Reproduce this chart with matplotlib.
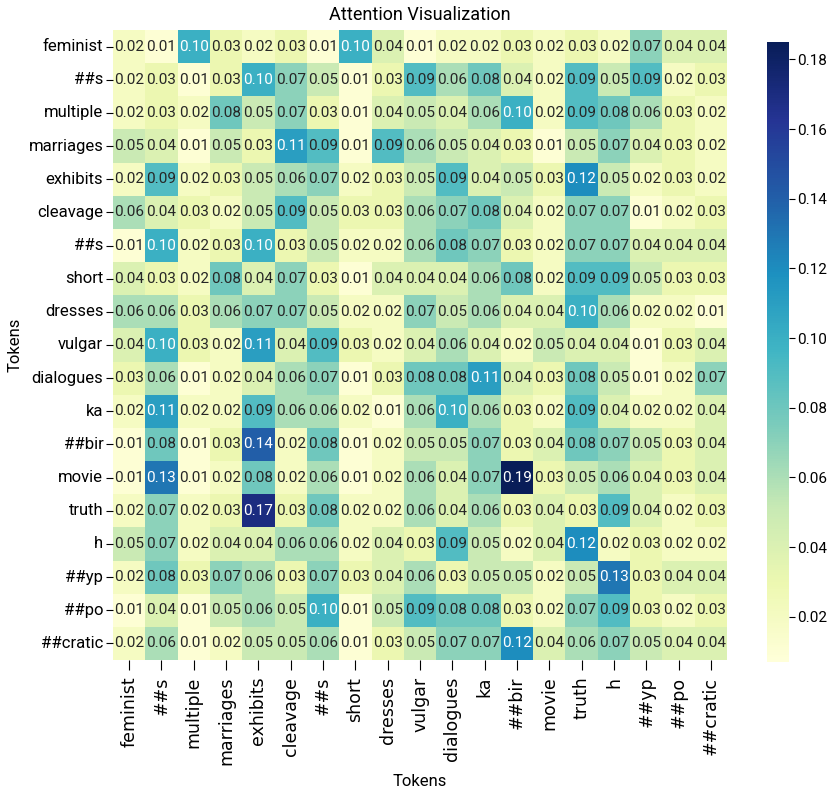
import numpy as np
import matplotlib
matplotlib.use("Agg")
import matplotlib.pyplot as plt
import seaborn as sns

tokens = ["feminist", "##s", "multiple", "marriages", "exhibits", "cleavage", "##s",
          "short", "dresses", "vulgar", "dialogues", "ka", "##bir", "movie", "truth",
          "h", "##yp", "##po", "##cratic"]

attn = np.array([
    [0.02, 0.01, 0.10, 0.03, 0.02, 0.03, 0.01, 0.10, 0.04, 0.01, 0.02, 0.02, 0.03, 0.02, 0.03, 0.02, 0.07, 0.04, 0.04],
    [0.02, 0.03, 0.01, 0.03, 0.10, 0.07, 0.05, 0.01, 0.03, 0.09, 0.06, 0.08, 0.04, 0.02, 0.09, 0.05, 0.09, 0.02, 0.03],
    [0.02, 0.03, 0.02, 0.08, 0.05, 0.07, 0.03, 0.01, 0.04, 0.05, 0.04, 0.06, 0.10, 0.02, 0.09, 0.08, 0.06, 0.03, 0.02],
    [0.05, 0.04, 0.01, 0.05, 0.03, 0.11, 0.09, 0.01, 0.09, 0.06, 0.05, 0.04, 0.03, 0.01, 0.05, 0.07, 0.04, 0.03, 0.02],
    [0.02, 0.09, 0.02, 0.03, 0.05, 0.06, 0.07, 0.02, 0.03, 0.05, 0.09, 0.04, 0.05, 0.03, 0.12, 0.05, 0.02, 0.03, 0.02],
    [0.06, 0.04, 0.03, 0.02, 0.05, 0.09, 0.05, 0.03, 0.03, 0.06, 0.07, 0.08, 0.04, 0.02, 0.07, 0.07, 0.01, 0.02, 0.03],
    [0.01, 0.10, 0.02, 0.03, 0.10, 0.03, 0.05, 0.02, 0.02, 0.06, 0.08, 0.07, 0.03, 0.02, 0.07, 0.07, 0.04, 0.04, 0.04],
    [0.04, 0.03, 0.02, 0.08, 0.04, 0.07, 0.03, 0.01, 0.04, 0.04, 0.04, 0.06, 0.08, 0.02, 0.09, 0.09, 0.05, 0.03, 0.03],
    [0.06, 0.06, 0.03, 0.06, 0.07, 0.07, 0.05, 0.02, 0.02, 0.07, 0.05, 0.06, 0.04, 0.04, 0.10, 0.06, 0.02, 0.02, 0.01],
    [0.04, 0.10, 0.03, 0.02, 0.11, 0.04, 0.09, 0.03, 0.02, 0.04, 0.06, 0.04, 0.02, 0.05, 0.04, 0.04, 0.01, 0.03, 0.04],
    [0.03, 0.06, 0.01, 0.02, 0.04, 0.06, 0.07, 0.01, 0.03, 0.08, 0.08, 0.11, 0.04, 0.03, 0.08, 0.05, 0.01, 0.02, 0.07],
    [0.02, 0.11, 0.02, 0.02, 0.09, 0.06, 0.06, 0.02, 0.01, 0.06, 0.10, 0.06, 0.03, 0.02, 0.09, 0.04, 0.02, 0.02, 0.04],
    [0.01, 0.08, 0.01, 0.03, 0.14, 0.02, 0.08, 0.01, 0.02, 0.05, 0.05, 0.07, 0.03, 0.04, 0.08, 0.07, 0.05, 0.03, 0.04],
    [0.01, 0.13, 0.01, 0.02, 0.08, 0.02, 0.06, 0.01, 0.02, 0.06, 0.04, 0.07, 0.19, 0.03, 0.05, 0.06, 0.04, 0.03, 0.04],
    [0.02, 0.07, 0.02, 0.03, 0.17, 0.03, 0.08, 0.02, 0.02, 0.06, 0.04, 0.06, 0.03, 0.04, 0.03, 0.09, 0.04, 0.02, 0.03],
    [0.05, 0.07, 0.02, 0.04, 0.04, 0.06, 0.06, 0.02, 0.04, 0.03, 0.09, 0.05, 0.02, 0.04, 0.12, 0.02, 0.03, 0.02, 0.02],
    [0.02, 0.08, 0.03, 0.07, 0.06, 0.03, 0.07, 0.03, 0.04, 0.06, 0.03, 0.05, 0.05, 0.02, 0.05, 0.13, 0.03, 0.04, 0.04],
    [0.01, 0.04, 0.01, 0.05, 0.06, 0.05, 0.10, 0.01, 0.05, 0.09, 0.08, 0.08, 0.03, 0.02, 0.07, 0.09, 0.03, 0.02, 0.03],
    [0.02, 0.06, 0.01, 0.02, 0.05, 0.05, 0.06, 0.01, 0.03, 0.05, 0.07, 0.07, 0.12, 0.04, 0.06, 0.07, 0.05, 0.04, 0.04],
])

narrow = "Roboto"

fig = plt.figure(figsize=(8.3, 7.94), dpi=100)
ax = fig.add_axes([113 / 830, 1 - 660 / 794, 614 / 830, 630 / 794])
cax = fig.add_axes([767 / 830, 1 - 662 / 794, 22 / 830, 620 / 794])

sns.heatmap(attn, ax=ax, cbar_ax=cax, cmap="YlGnBu", vmin=0.007, vmax=0.185,
            annot=True, fmt=".2f",
            annot_kws={"fontsize": 11, "family": narrow},
            xticklabels=tokens, yticklabels=tokens)

ax.set_yticklabels(tokens, rotation=0, fontsize=12, family=narrow)
ax.set_xticklabels(tokens, rotation=90, fontsize=12.5)
ax.tick_params(axis="x", length=7, pad=5)
ax.tick_params(axis="y", length=5, pad=2)
ax.set_title("Attention Visualization", fontsize=13, family=narrow, pad=7)
ax.set_xlabel("Tokens", fontsize=12, family=narrow, labelpad=6)
ax.set_ylabel("Tokens", fontsize=12, family=narrow, labelpad=4)

cax.tick_params(labelsize=11, length=4, pad=2)
for t in cax.get_yticklabels():
    t.set_family(narrow)

fig.savefig("out.png", dpi=100)
